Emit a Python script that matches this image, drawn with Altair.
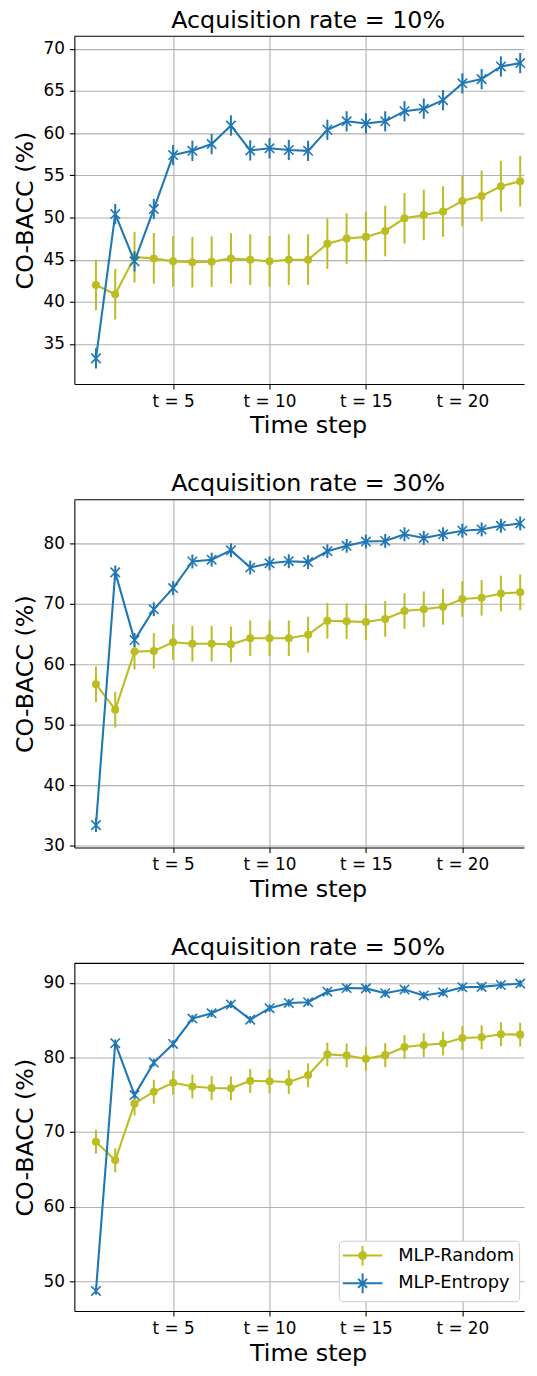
import altair as alt
import pandas as pd

steps = list(range(1, 24))
series_names = ["MLP-Random", "MLP-Entropy"]
series_colors = ["#bcbd22", "#1f77b4"]
panel_titles = ["Acquisition rate = 10%", "Acquisition rate = 30%", "Acquisition rate = 50%"]
x_ticks = [5, 10, 15, 20]

# Acquisition rate = 10%
random_10 = [42.0, 40.9, 45.3, 45.15, 44.8, 44.7, 44.75, 45.15, 45.0, 44.8, 45.0, 45.0,
             46.9, 47.5, 47.7, 48.4, 49.9, 50.3, 50.7, 51.95, 52.55, 53.7, 54.3]
random_10_err = [3.0] * 23
entropy_10 = [33.3, 50.4, 44.8, 51.0, 57.4, 57.9, 58.7, 60.9, 57.95, 58.2, 58.0, 57.9,
              60.4, 61.4, 61.15, 61.4, 62.6, 62.9, 63.9, 65.9, 66.4, 67.9, 68.3]
entropy_10_err = [1.2] * 23

# Acquisition rate = 30%
random_30 = [56.7, 52.5, 62.1, 62.2, 63.65, 63.4, 63.4, 63.3, 64.3, 64.3, 64.3, 64.9,
             67.2, 67.1, 67.0, 67.5, 68.8, 69.1, 69.5, 70.8, 71.0, 71.7, 71.9]
random_30_err = [2.95] * 23
entropy_30 = [33.4, 75.2, 64.0, 69.1, 72.6, 77.0, 77.3, 78.85, 76.0, 76.7, 77.05, 76.9,
              78.7, 79.6, 80.3, 80.4, 81.5, 80.9, 81.5, 82.1, 82.3, 82.9, 83.3]
entropy_30_err = [1.15] * 23

# Acquisition rate = 50%
random_50 = [68.7, 66.2, 73.8, 75.4, 76.6, 76.1, 75.9, 75.85, 76.85, 76.8, 76.7, 77.6,
             80.4, 80.25, 79.8, 80.3, 81.4, 81.65, 81.85, 82.6, 82.7, 83.1, 83.05]
random_50_err = [1.6] * 23
entropy_50 = [48.7, 81.9, 74.95, 79.3, 81.8, 85.2, 85.9, 87.1, 85.06, 86.6, 87.3, 87.4,
              88.8, 89.3, 89.25, 88.6, 89.1, 88.3, 88.7, 89.4, 89.45, 89.7, 89.9]
entropy_50_err = [0.5] * 23

y_domains = [[30.27, 71.48], [29.7, 87.2], [46.0, 92.6]]
y_ticks = [[35, 40, 45, 50, 55, 60, 65, 70], [30, 40, 50, 60, 70, 80], [50, 60, 70, 80, 90]]

PW, PH = 454, 351
X_DOMAIN = [-0.12, 23.2]
SPACING = 34
FONT = "DejaVu Sans"

legend_paths = [
    "M-1.1,0L2.9,0M0.9,-1L0.9,1M1.25,0A0.35,0.35 0 1,1 0.55,0A0.35,0.35 0 1,1 1.25,0"
    "M1.05,0A0.15,0.15 0 1,1 0.75,0A0.15,0.15 0 1,1 1.05,0",
    "M-1.1,0L2.9,0M0.9,-1L0.9,1M0.45,-0.45L1.35,0.45M0.45,0.45L1.35,-0.45",
]
x_marker = "M-1,-1L1,1M-1,1L1,-1"


def build_df(rnd, rnd_err, ent, ent_err):
    rows = []
    for name, vals, errs in [(series_names[0], rnd, rnd_err), (series_names[1], ent, ent_err)]:
        for t, v, e in zip(steps, vals, errs):
            rows.append({"t": t, "series": name, "v": v, "lo": v - e, "hi": v + e})
    return pd.DataFrame(rows)


def panel(idx, df, show_legend):
    xs = alt.X("t:Q", scale=alt.Scale(domain=X_DOMAIN, nice=False, zero=False),
               axis=alt.Axis(values=x_ticks, labelExpr="'t = ' + datum.value", title="Time step",
                             titleX=236))
    yax = alt.Axis(values=y_ticks[idx], title="CO-BACC (%)", grid=True)
    ysc = alt.Scale(domain=y_domains[idx], nice=False, zero=False)

    def y(field):
        return alt.Y(f"{field}:Q", scale=ysc, axis=yax, title="CO-BACC (%)")

    layers = []
    for k, name in enumerate(series_names):
        col = series_colors[k]
        base = alt.Chart(df).transform_filter(alt.datum.series == name)
        layers.append(base.mark_line(color=col, strokeWidth=2.1).encode(x=xs, y=y("v")))
        layers.append(base.mark_rule(color=col, strokeWidth=2).encode(x=xs, y=y("lo"), y2="hi:Q"))
        if k == 0:
            layers.append(base.mark_point(shape="circle", filled=True, size=66, color=col, opacity=1)
                          .encode(x=xs, y=y("v")))
        else:
            layers.append(base.mark_point(shape=x_marker, filled=False, size=90, color=col,
                                          strokeWidth=1.6, opacity=1)
                          .encode(x=xs, y=y("v")))
    top = alt.Chart(pd.DataFrame({"a": [0]})).mark_rule(color="black", strokeWidth=1.1).encode(
        x=alt.value(0), x2=alt.value(PW), y=alt.value(0))
    layers.append(top)
    if show_legend:
        leg = alt.Legend(orient="none", legendX=267, legendY=280, title=None,
                         labelFontSize=18, labelFont=FONT, labelColor="black",
                         symbolSize=400, symbolStrokeWidth=2, labelOffset=34,
                         padding=4, rowPadding=0, fillColor="white",
                         strokeColor="#cccccc", cornerRadius=4)
        lg = alt.Chart(df).transform_filter("datum.t < -100").mark_point(filled=False, strokeWidth=2, opacity=1).encode(
            x=xs, y=y("v"),
            color=alt.Color("series:N", scale=alt.Scale(domain=series_names, range=series_colors), legend=leg),
            shape=alt.Shape("series:N", scale=alt.Scale(domain=series_names, range=legend_paths), legend=leg),
        )
        layers.append(lg)
    return alt.layer(*layers).properties(
        width=PW, height=PH,
        title=alt.TitleParams(panel_titles[idx], fontSize=24, fontWeight="normal", font=FONT,
                              anchor="middle", baseline="bottom", offset=-21, dx=9, color="black"),
    )


dfs = [
    build_df(random_10, random_10_err, entropy_10, entropy_10_err),
    build_df(random_30, random_30_err, entropy_30, entropy_30_err),
    build_df(random_50, random_50_err, entropy_50, entropy_50_err),
]

chart = alt.vconcat(
    panel(0, dfs[0], False), panel(1, dfs[1], False), panel(2, dfs[2], True), spacing=SPACING
).resolve_legend(color="independent", shape="independent").properties(
    padding={"left": 5, "top": -6, "right": 0, "bottom": 0}
).configure(
    font=FONT, background="white"
).configure_view(stroke=None).configure_axis(
    labelFont=FONT, titleFont=FONT, labelFontSize=17, titleFontSize=24, titleFontWeight="normal",
    labelColor="black", titleColor="black", domainColor="black", tickColor="black",
    domainWidth=1.1, tickWidth=1.1, tickSize=5, labelPadding=4.5, gridColor="#b0b0b0", gridWidth=1.1,
).configure_axisY(titlePadding=6, labelPadding=5).configure_axisX(titlePadding=5)

chart.save("out.html", embed_options={"renderer": "svg", "actions": False})
